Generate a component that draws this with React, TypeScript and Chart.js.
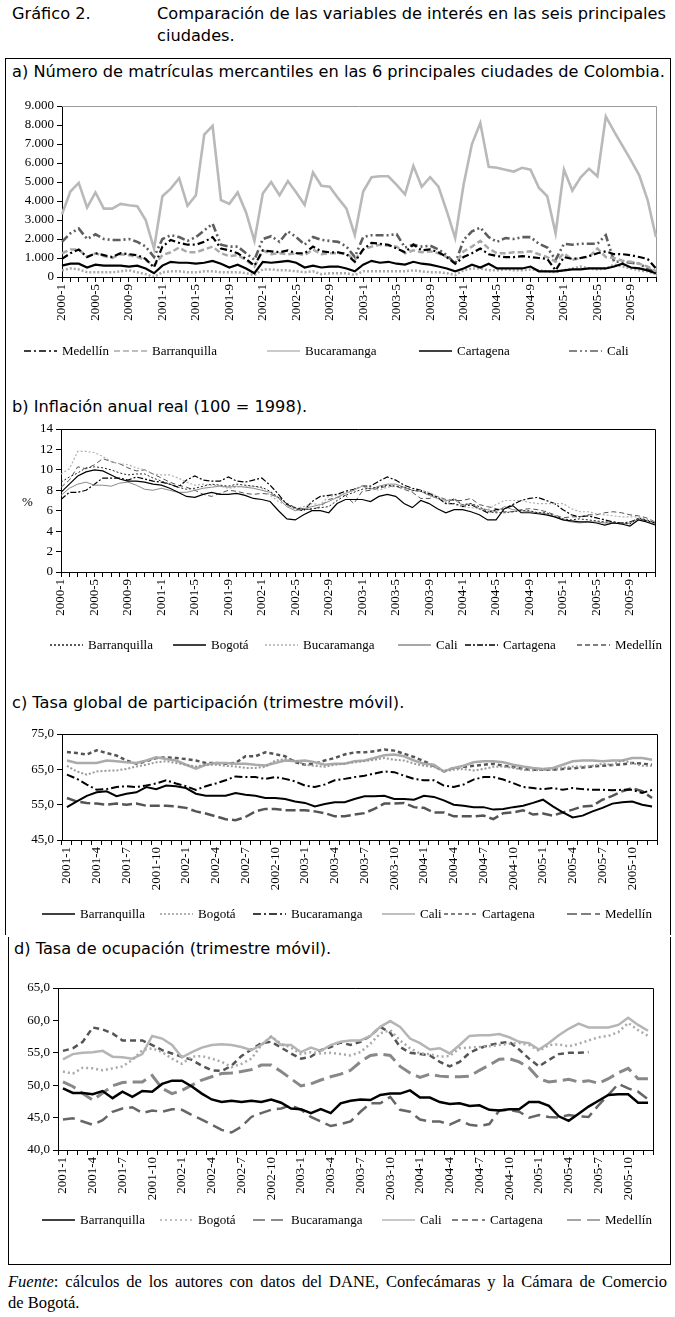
import React, { useEffect, useRef } from 'react';
import { Chart, registerables } from 'chart.js';

Chart.register(...registerables);

const SERIF = "'Liberation Serif', 'Times New Roman', Times, serif";
Chart.defaults.font.family = SERIF;
Chart.defaults.font.size = 13;
Chart.defaults.color = '#000';

// ---------- categories & tick labels ----------
const MONTHS_2000_2005: string[] = [];
for (let y = 2000; y <= 2005; y++) for (let m = 1; m <= 12; m++) MONTHS_2000_2005.push(`${y}-${m}`);
const MONTHS_2001_2005 = MONTHS_2000_2005.slice(12);

const TICKS_EVERY4 = ['2000-1','2000-5','2000-9','2001-1','2001-5','2001-9','2002-1','2002-5','2002-9','2003-1','2003-5','2003-9','2004-1','2004-5','2004-9','2005-1','2005-5','2005-9'];
const TICKS_QUARTER = ['2001-1','2001-4','2001-7','2001-10','2002-1','2002-4','2002-7','2002-10','2003-1','2003-4','2003-7','2003-10','2004-1','2004-4','2004-7','2004-10','2005-1','2005-4','2005-7','2005-10'];

// ---------- a) matrículas mercantiles ----------
const A_MEDELLIN = [950,1250,1450,1050,1250,1150,1050,1250,1200,1150,950,500, 1600,1950,1800,1700,1700,1850,2100,1500,1400,1250,950,600, 1400,1350,1300,1400,1250,1250,1600,1350,1300,1300,1200,800, 1450,1800,1750,1700,1500,1300,1700,1400,1450,1300,1050,700, 1050,1250,1500,1200,1100,1050,1050,1100,1050,1000,950,350, 1050,950,1000,1100,1250,1350,1200,1200,1150,1050,950,450];
const A_BARRANQUILLA = [1250,1450,1450,1050,1250,1100,1000,1200,1150,1050,900,600, 1150,1300,1550,1300,1300,1450,1600,1250,1100,1150,900,550, 1400,1200,1250,1200,1250,1150,1450,1200,1250,1250,1250,900, 1450,1600,1700,1650,1600,1250,1400,1300,1350,1250,1050,700, 1350,1600,1900,1500,1250,1250,1300,1300,1350,1200,1050,800, 1250,900,1000,1050,1500,1050,1000,850,800,700,550,300];
const A_BUCARAMANGA = [3300,4500,4950,3650,4450,3600,3600,3850,3780,3720,3000,1500, 4250,4650,5200,3750,4300,7500,7950,4050,3850,4450,3400,1900, 4400,5000,4300,5050,4450,3800,5500,4800,4750,4150,3600,2200, 4500,5250,5300,5300,4850,4350,5850,4750,5250,4750,3450,2050, 4850,7000,8100,5800,5750,5650,5550,5750,5650,4700,4250,2300, 5650,4550,5250,5700,5300,8450,7650,6900,6150,5350,4050,2100];
const A_CARTAGENA = [600,700,700,500,650,600,600,600,550,600,450,200, 600,800,750,750,700,750,850,700,500,650,450,200, 800,750,800,850,750,500,600,500,550,550,450,300, 650,850,750,800,700,650,800,700,650,550,450,300, 450,650,500,700,450,450,450,450,550,300,300,300, 350,400,400,450,450,450,550,700,500,450,350,200];
const A_CALI = [1850,2300,2550,2000,2250,2000,1950,1950,2000,1850,1600,1050, 2000,2200,2100,1900,2100,2450,2800,1700,1600,1600,1250,900, 2000,2150,1850,2400,2100,1700,2100,1950,1900,1850,1600,1050, 2100,2200,2200,2200,2250,1550,1700,1600,1650,1450,1150,700, 1950,2400,2600,2100,1850,2050,2000,2100,2100,1750,1550,900, 1750,1700,1750,1750,1750,2200,800,800,750,700,450,200];
const A_OTRA = [350,450,400,250,250,250,250,300,350,250,150,0, 250,300,300,250,250,300,300,250,250,250,200,100, 400,400,350,350,300,250,300,150,200,200,200,100, 300,300,300,300,300,300,350,300,250,250,200,100, 350,450,450,350,350,400,350,350,400,350,300,250, 350,450,550,450,400,450,650,550,450,350,300,150];

// ---------- b) inflación anual real ----------
const B_BARRANQUILLA = [8.8,9.3,9.7,10.2,10.3,10.2,10.0,9.7,9.5,9.6,9.6,9.2, 8.9,8.6,8.3,8.1,8.2,8.4,8.6,8.5,8.4,8.6,8.5,8.4, 8.3,7.9,7.3,6.7,6.3,6.1,6.2,6.3, 6.4,7.0,7.5,7.8,8.1,8.2,8.3,8.5,8.4,8.3,8.0,7.9, 7.6,7.3,6.7,7.2,6.6,6.7,6.4,5.9,5.8,5.8,5.9,6.0, 6.0,5.8,5.8,5.5,5.2,5.1,5.2,5.1,5.0,4.9,4.9,4.8, 4.7,5.3,5.1,4.8];
const B_BOGOTA = [7.8,8.6,9.4,9.8,10.0,9.9,9.5,9.1,8.9,8.9,8.8,8.6, 8.5,8.2,7.8,7.4,7.3,7.6,7.8,7.6,7.6,7.7,7.5,7.2, 7.1,6.9,6.0,5.2,5.1,5.6,6.0,6.0, 5.8,6.7,7.1,7.1,7.1,6.9,7.4,7.6,7.4,6.7,6.3,7.0, 6.7,6.2,5.8,6.1,6.1,5.9,5.6,5.1,5.1,6.2,6.5,5.8, 5.8,5.7,5.6,5.4,5.1,5.0,4.9,4.9,4.8,4.6,4.8,4.7, 4.5,5.1,4.9,4.6];
const B_BUCARAMANGA = [9.6,10.1,11.8,11.8,11.7,11.3,10.8,10.6,10.5,10.2,10.0,9.6, 9.5,9.5,9.2,8.8,8.5,8.6,8.5,8.4,8.2,8.3,8.4,8.4, 8.2,7.5,6.9,6.5,6.2,6.4,6.7,6.6, 7.4,7.5,7.7,8.0,8.4,8.2,8.0,8.3,8.4,8.2,7.9,8.0, 7.8,7.4,6.9,6.6,6.4,6.3,6.2,6.1,6.6,7.0,7.0,7.0, 6.8,6.7,6.7,6.7,6.7,6.2,5.9,5.9,5.7,5.6,5.5,5.4, 5.4,5.4,5.2,4.9];
const B_CALI = [7.5,8.2,8.6,8.8,8.5,8.5,8.4,8.7,8.8,8.5,8.1,8.0, 8.2,8.0,7.8,7.8,8.0,8.2,8.3,8.4,8.3,8.4,8.3,8.2, 8.0,7.8,7.2,6.4,6.0,6.2,6.4,6.6, 6.9,7.3,7.7,8.0,8.4,8.1,8.4,8.6,8.6,8.3,8.0,7.9, 7.5,7.2,7.0,7.1,6.5,6.7,6.2,6.1,5.9,6.4,6.1,6.0, 5.9,5.8,5.7,5.4,5.1,4.9,4.8,4.9,4.9,4.8,4.8,4.7, 4.8,5.2,4.9,4.7];
const B_CARTAGENA = [7.1,7.8,7.8,8.0,8.6,9.2,9.2,9.2,9.0,9.3,9.1,8.9, 8.8,8.6,8.3,9.0,9.4,9.0,8.9,8.9,9.3,8.9,8.8,9.0, 9.2,8.5,7.6,6.6,6.2,6.0,6.9,7.4, 7.5,7.6,7.9,8.1,8.4,8.4,8.9,9.3,9.0,8.5,8.2,8.0, 7.7,7.3,6.7,6.7,6.4,6.6,6.2,5.8,6.1,6.2,6.6,7.0, 7.2,7.3,7.0,6.7,6.1,5.6,5.4,5.5,5.3,5.1,4.9,4.8, 4.9,5.2,5.0,4.8];
const B_MEDELLIN = [8.3,9.0,10.3,10.1,10.5,11.1,10.8,10.6,10.2,9.9,10.0,9.6, 9.2,8.8,8.5,8.3,8.0,7.6,7.4,7.7,8.0,7.9,7.7,7.6, 7.7,7.6,7.3,6.7,6.3,6.2,6.1,6.4, 7.1,7.3,7.5,6.7,7.9,8.0,8.2,8.4,8.4,8.1,7.8,7.2, 7.2,7.4,7.1,7.0,7.0,7.2,6.6,6.4,6.2,5.9,5.9,6.1, 6.2,6.1,5.9,5.6,5.3,5.4,5.4,5.6,5.6,5.8,5.9,5.8, 5.6,5.5,5.3,4.9];

// ---------- c) tasa global de participación ----------
const C_BARRANQUILLA = [54.3,55.9,57.5,58.5,58.8,57.4,58.1,58.5,60.0,59.4,60.4,60.2, 59.7,58.1,57.5,57.5,57.5,58.3,57.8,57.5,56.9,56.9,56.6,55.9, 55.5,54.5,55.2,55.7,55.7,56.6,57.4,57.4,57.5,56.6,56.6,56.4, 57.5,57.2,56.2,55.0,54.7,54.3,54.3,53.6,53.8,54.3,54.7,55.5, 56.4,54.5,52.8,51.4,51.9,53.1,54.1,55.3,55.7,55.9,55.0,54.5];
const C_BOGOTA = [66.0,64.4,63.5,64.4,64.6,64.7,65.1,65.8,66.3,67.0,67.3,66.8, 66.3,65.8,66.3,66.3,66.0,65.8,65.4,65.4,65.7,67.5,67.9,67.5, 66.3,66.0,65.7,66.3,66.6,67.0,67.3,67.7,68.2,67.7,67.5,66.6, 66.0,65.7,64.4,64.9,65.1,64.7,65.1,65.7,65.8,65.4,64.9,64.7, 64.9,64.9,65.4,65.8,65.8,66.0,66.6,66.3,67.5,66.8,66.0,66.0];
const C_BUCARAMANGA = [63.5,62.3,60.7,59.2,59.4,60.0,60.2,60.0,60.4,61.0,61.9,61.0, 60.2,59.2,60.2,61.0,61.9,63.0,62.8,62.8,62.3,62.8,62.3,61.6, 60.4,60.0,60.7,61.9,62.3,62.8,63.2,63.8,64.4,64.2,63.2,62.3, 61.9,61.9,60.4,60.0,60.7,62.1,62.8,62.8,62.1,61.1,60.0,59.7, 59.4,59.7,59.2,59.7,59.4,59.2,59.2,59.1,59.2,59.2,58.3,59.2];
const C_CALI = [67.5,66.8,66.8,66.8,67.5,67.3,67.0,66.8,67.5,68.4,67.9,67.5, 66.3,65.2,66.3,66.8,66.8,66.6,66.6,66.3,66.1,66.8,67.5,67.3, 67.5,67.0,66.3,66.6,66.6,67.3,67.5,68.2,69.0,69.2,68.7,67.5, 66.6,66.3,64.4,65.4,66.0,67.0,67.3,67.3,67.0,66.3,65.8,65.4, 65.1,65.4,66.3,67.3,67.5,67.5,67.3,67.5,67.5,68.2,68.2,67.7];
const C_CARTAGENA = [69.9,69.6,69.2,70.4,69.6,68.9,67.5,66.6,67.3,68.2,68.4,68.2, 67.9,67.5,66.8,66.8,66.6,66.8,68.7,68.7,69.8,69.3,68.7,67.0, 66.3,66.6,67.5,68.2,69.2,69.8,69.8,70.1,70.6,70.3,69.4,68.5, 67.3,66.0,64.4,65.4,65.7,66.0,66.3,66.6,66.0,65.7,65.1,64.9, 64.9,64.9,65.1,65.3,65.5,65.8,66.0,66.2,66.4,66.8,66.6,66.3];
const C_MEDELLIN = [56.9,55.9,55.5,55.3,55.0,55.3,55.0,55.3,54.7,54.7,54.7,54.5, 54.1,53.1,52.5,51.7,50.9,50.6,51.5,53.1,53.8,53.8,53.4,53.4, 53.4,53.1,52.6,51.7,51.7,52.2,52.6,53.8,55.3,55.3,55.5,54.3, 54.1,52.8,52.8,51.7,51.7,51.7,51.9,50.9,52.6,52.8,53.4,52.2, 52.5,51.9,52.8,53.6,54.5,54.7,56.4,57.5,58.8,59.7,58.8,56.9];

// ---------- d) tasa de ocupación ----------
const D_BARRANQUILLA = [49.5,48.8,48.8,48.6,49.1,48.0,49.0,48.2,49.1,49.0,50.2,50.7, 50.7,49.8,48.7,47.8,47.4,47.6,47.4,47.6,47.4,47.8,47.3,46.4, 46.3,45.7,46.3,45.7,47.2,47.6,47.8,47.7,48.5,48.7,48.7,49.2, 48.1,48.1,47.4,47.1,47.2,46.8,46.9,46.2,46.1,46.3,46.3,47.4, 47.4,46.8,45.2,44.5,45.6,46.7,47.6,48.5,48.6,48.6,47.3,47.3];
const D_BOGOTA = [52.1,51.8,52.7,52.6,52.3,52.6,52.9,53.9,55.4,55.7,55.1,54.1, 53.3,54.4,54.5,54.1,53.6,52.8,53.3,54.1,56.2,57.5,56.4,55.8, 54.8,55.1,54.9,55.0,54.8,54.6,55.1,56.4,58.0,58.5,56.9,55.7, 54.9,54.8,54.4,54.5,55.7,55.8,55.9,56.0,56.2,56.4,56.5,56.2, 55.3,56.2,56.3,56.0,56.4,56.9,57.4,57.6,58.2,59.6,58.5,57.6];
const D_BUCARAMANGA = [44.7,44.9,44.4,43.9,44.6,45.9,46.4,46.6,45.7,46.1,45.9,46.3, 46.2,45.4,44.7,43.9,43.1,42.7,43.6,45.1,45.7,46.2,46.4,46.9, 46.2,45.1,44.4,43.7,44.0,44.4,45.9,47.2,47.2,48.2,46.2,45.9, 44.7,44.4,44.4,43.9,44.6,43.9,43.7,44.0,46.1,46.2,45.9,45.0, 45.4,45.1,45.0,45.4,45.2,45.1,46.9,48.5,50.2,49.5,49.0,47.8];
const D_CALI = [54.0,54.8,55.0,55.1,55.3,54.4,54.3,54.1,54.8,57.6,57.2,56.2, 54.3,55.1,55.8,56.2,56.3,56.2,55.9,55.4,56.2,57.5,56.2,56.2, 55.1,55.8,55.3,56.2,56.7,56.9,56.9,57.6,59.0,59.9,59.0,57.2, 56.5,55.5,55.7,54.9,56.2,57.6,57.7,57.7,57.9,57.4,56.7,56.5, 55.5,56.5,57.7,58.7,59.5,58.9,58.9,58.9,59.3,60.4,59.3,58.4];
const D_CARTAGENA = [55.3,55.7,56.7,58.9,58.6,58.0,56.9,56.9,56.9,56.2,55.4,54.9, 54.4,53.9,53.0,52.3,52.2,53.0,54.5,55.5,56.5,56.7,55.8,54.9, 54.1,54.4,55.4,55.9,56.6,56.2,56.7,57.6,59.0,58.1,55.9,55.0, 54.8,54.6,53.6,52.9,53.6,55.0,55.7,56.2,56.5,56.7,55.5,54.1, 52.9,53.9,54.8,55.0,55.0,55.1,null,null,null,null,null,null];
const D_MEDELLIN = [50.5,49.8,48.7,47.7,48.8,49.9,50.4,50.5,50.5,51.5,49.5,48.7, 49.2,50.0,50.8,51.3,51.8,51.9,52.1,52.4,53.1,53.1,52.1,51.0, 49.9,50.2,50.8,51.3,51.7,52.3,53.6,54.6,54.8,54.6,52.9,51.9, 51.2,51.7,51.4,51.3,51.3,51.4,52.3,53.1,54.0,54.1,53.6,52.7, 51.0,50.5,50.7,50.9,50.5,50.7,50.3,51.0,51.9,52.6,51.0,51.0];

// ---------- plugins ----------
const framePlugin = {
  id: 'plotFrame',
  beforeDatasetsDraw(chart: any, _a: any, opts: any) {
    const { ctx, chartArea: a } = chart;
    ctx.save();
    ctx.lineWidth = 1;
    ctx.strokeStyle = opts.color || '#000';
    ctx.beginPath();
    ctx.moveTo(a.left, a.top + 0.5);
    ctx.lineTo(a.right + 0.5, a.top + 0.5);
    ctx.lineTo(a.right + 0.5, a.bottom);
    ctx.stroke();
    ctx.restore();
  },
};

const keyPlugin = {
  id: 'lineKey',
  afterDraw(chart: any, _a: any, opts: any) {
    const { ctx } = chart;
    ctx.save();
    ctx.font = opts.font;
    ctx.textBaseline = 'middle';
    ctx.fillStyle = '#000';
    chart.data.datasets.forEach((ds: any, i: number) => {
      const tx = opts.xs[i];
      if (tx == null) return;
      const x1 = tx - opts.gap - opts.len;
      ctx.strokeStyle = ds.borderColor;
      ctx.lineWidth = opts.lineWidth;
      ctx.setLineDash(ds.borderDash || []);
      ctx.beginPath();
      ctx.moveTo(x1, opts.y);
      ctx.lineTo(x1 + opts.len, opts.y);
      ctx.stroke();
      ctx.setLineDash([]);
      ctx.fillText(ds.label, tx, opts.y + 1);
    });
    ctx.restore();
  },
};

type PanelProps = {
  top: number; height: number;
  plot: { l: number; r: number; t: number; b: number };
  xh: number;
  labels: string[]; shown: string[]; offset: boolean;
  datasets: any[];
  yMin: number; yMax: number; step: number; fmt: (v: number) => string;
  keyY: number; keyXs: (number | null)[];
  frameColor: string; axisColor: string;
};

function Panel(p: PanelProps) {
  const ref = useRef<HTMLCanvasElement>(null);
  useEffect(() => {
    const yw = p.plot.l - 8;
    const shown = new Set(p.shown);
    const tickFont = { family: SERIF, size: 13 };
    const chart = new Chart(ref.current as HTMLCanvasElement, {
      type: 'line',
      data: { labels: p.labels, datasets: p.datasets.map((d) => ({ ...d, pointRadius: 0, tension: 0, fill: false, spanGaps: false })) },
      plugins: [framePlugin, keyPlugin],
      options: {
        animation: false,
        responsive: false,
        maintainAspectRatio: false,
        devicePixelRatio: 1,
        events: [],
        layout: { padding: { left: 8, right: 675 - p.plot.r, top: p.plot.t - p.top, bottom: p.top + p.height - p.plot.b - p.xh } },
        plugins: {
          legend: { display: false },
          tooltip: { enabled: false },
          plotFrame: { color: p.frameColor },
          lineKey: { y: p.keyY - p.top, xs: p.keyXs, len: 33, gap: 5, lineWidth: 1.3, font: `13px ${SERIF}` },
        } as any,
        scales: {
          x: {
            type: 'category',
            offset: p.offset,
            grid: { drawOnChartArea: false, drawTicks: true, tickLength: 5, color: '#000', offset: p.offset },
            border: { color: p.axisColor, width: 1 },
            ticks: {
              autoSkip: false, maxRotation: 90, minRotation: 90, padding: 2, color: '#000',
              font: tickFont,
              callback: (_v: any, i: number) => (shown.has(p.labels[i]) ? p.labels[i] : ''),
            },
            afterFit: (s: any) => { s.height = p.xh; },
          },
          y: {
            min: p.yMin, max: p.yMax,
            grid: { drawOnChartArea: false, drawTicks: true, tickLength: 5, color: '#000' },
            border: { color: p.axisColor, width: 1 },
            ticks: { stepSize: p.step, padding: 3, color: '#000', font: tickFont, callback: (v: any) => p.fmt(Number(v)) },
            afterFit: (s: any) => { s.width = yw; },
          },
        },
      } as any,
    });
    return () => chart.destroy();
  }, []);
  return (
    <canvas ref={ref} width={675} height={p.height}
      style={{ position: 'absolute', left: 0, top: p.top, width: 675, height: p.height }} />
  );
}

const thousands = (v: number) => String(Math.round(v)).replace(/\B(?=(\d{3})+(?!\d))/g, '.');
const oneDec = (v: number) => v.toFixed(1).replace('.', ',');
const plain = (v: number) => String(v);

const TITLE_FONT = "'DejaVu Sans', 'Noto Sans', sans-serif";

const titleStyle = (top: number, left: number): React.CSSProperties => ({
  position: 'absolute', top, left, fontFamily: TITLE_FONT, fontSize: 16.2, lineHeight: '19px', whiteSpace: 'nowrap', color: '#000',
});

const footStyle = (top: number): React.CSSProperties => ({
  position: 'absolute', left: 8, top, width: 659, fontFamily: SERIF, fontSize: 16.5, lineHeight: '21px', color: '#000', whiteSpace: 'nowrap',
});

export default function App() {
  const dsA = [
    { label: 'Medellín', data: A_MEDELLIN, borderColor: '#000000', borderWidth: 2.2, borderDash: [7, 3, 2, 3] },
    { label: 'Barranquilla', data: A_BARRANQUILLA, borderColor: '#a9a9a9', borderWidth: 2.5, borderDash: [6, 3] },
    { label: 'Bucaramanga', data: A_BUCARAMANGA, borderColor: '#b9b9b9', borderWidth: 2.6 },
    { label: 'Cartagena', data: A_CARTAGENA, borderColor: '#000000', borderWidth: 2.2 },
    { label: 'Cali', data: A_CALI, borderColor: '#5e5e5e', borderWidth: 2.6, borderDash: [8, 3, 2, 3, 2, 3] },
    { label: 'Otras', data: A_OTRA, borderColor: '#a9a9a9', borderWidth: 2.5, borderDash: [2, 2] },
  ];
  const dsB = [
    { label: 'Barranquilla', data: B_BARRANQUILLA, borderColor: '#222222', borderWidth: 1, borderDash: [2, 2] },
    { label: 'Bogotá', data: B_BOGOTA, borderColor: '#000000', borderWidth: 1.2 },
    { label: 'Bucaramanga', data: B_BUCARAMANGA, borderColor: '#b0b0b0', borderWidth: 1.2, borderDash: [2, 2] },
    { label: 'Cali', data: B_CALI, borderColor: '#8a8a8a', borderWidth: 1 },
    { label: 'Cartagena', data: B_CARTAGENA, borderColor: '#000000', borderWidth: 1.2, borderDash: [6, 2, 2, 2] },
    { label: 'Medellín', data: B_MEDELLIN, borderColor: '#555555', borderWidth: 1, borderDash: [5, 3] },
  ];
  const dsC = [
    { label: 'Barranquilla', data: C_BARRANQUILLA, borderColor: '#000000', borderWidth: 2 },
    { label: 'Bogotá', data: C_BOGOTA, borderColor: '#9a9a9a', borderWidth: 2, borderDash: [2, 2] },
    { label: 'Bucaramanga', data: C_BUCARAMANGA, borderColor: '#000000', borderWidth: 2, borderDash: [8, 3, 2, 3] },
    { label: 'Cali', data: C_CALI, borderColor: '#ababab', borderWidth: 2.5 },
    { label: 'Cartagena', data: C_CARTAGENA, borderColor: '#555555', borderWidth: 2.5, borderDash: [4, 3] },
    { label: 'Medellín', data: C_MEDELLIN, borderColor: '#555555', borderWidth: 2.5, borderDash: [10, 4] },
  ];
  const dsD = [
    { label: 'Barranquilla', data: D_BARRANQUILLA, borderColor: '#000000', borderWidth: 2.5 },
    { label: 'Bogotá', data: D_BOGOTA, borderColor: '#aaaaaa', borderWidth: 2.5, borderDash: [2, 3] },
    { label: 'Bucaramanga', data: D_BUCARAMANGA, borderColor: '#666666', borderWidth: 2.5, borderDash: [12, 6] },
    { label: 'Cali', data: D_CALI, borderColor: '#b5b5b5', borderWidth: 2.5 },
    { label: 'Cartagena', data: D_CARTAGENA, borderColor: '#555555', borderWidth: 2.5, borderDash: [6, 4] },
    { label: 'Medellín', data: D_MEDELLIN, borderColor: '#888888', borderWidth: 3, borderDash: [14, 6] },
  ];

  return (
    <div style={{ position: 'absolute', left: 0, top: 0, width: 675, height: 1317, background: '#fff', overflow: 'hidden' }}>
      <div style={titleStyle(4, 12)}>Gráfico 2.</div>
      <div style={titleStyle(4, 157)}>Comparación de las variables de interés en las seis principales</div>
      <div style={titleStyle(26, 157)}>ciudades.</div>

      <div style={{ position: 'absolute', left: 5, top: 58, width: 664, height: 876, borderLeft: '1.5px solid #000', borderTop: '1.5px solid #000', borderRight: '1.5px solid #000' }} />
      <div style={{ position: 'absolute', left: 8, top: 937, width: 661, height: 327, borderLeft: '1.5px solid #000', borderBottom: '1.5px solid #000', borderRight: '1.5px solid #000' }} />

      <div style={titleStyle(62, 12)}>a) Número de matrículas mercantiles en las 6 principales ciudades de Colombia.</div>
      <Panel top={92} height={273} plot={{ l: 62, r: 656, t: 106, b: 277 }} xh={62}
        labels={MONTHS_2000_2005} shown={TICKS_EVERY4} offset={false} datasets={dsA}
        yMin={0} yMax={9000} step={1000} fmt={thousands}
        keyY={351} keyXs={[62, 152, 305, 457, 607, null]} frameColor="#9a9a9a" axisColor="#000" />

      <div style={titleStyle(397, 12)}>b) Inflación anual real (100 = 1998).</div>
      <Panel top={418} height={240} plot={{ l: 61, r: 655, t: 429, b: 572 }} xh={62}
        labels={MONTHS_2000_2005} shown={TICKS_EVERY4} offset={false} datasets={dsB}
        yMin={0} yMax={14} step={2} fmt={plain}
        keyY={645} keyXs={[88, 211, 303, 436, 503, 615]} frameColor="#000" axisColor="#000" />
      <div style={{ position: 'absolute', left: 22, top: 494, fontFamily: SERIF, fontSize: 13 }}>%</div>

      <div style={titleStyle(693, 12)}>c) Tasa global de participación (trimestre móvil).</div>
      <Panel top={722} height={205} plot={{ l: 62, r: 657, t: 734, b: 840 }} xh={62}
        labels={MONTHS_2001_2005} shown={TICKS_QUARTER} offset={true} datasets={dsC}
        yMin={45} yMax={75} step={5} fmt={oneDec}
        keyY={914} keyXs={[80, 198, 291, 420, 482, 605]} frameColor="#000" axisColor="#000" />

      <div style={titleStyle(939, 14)}>d) Tasa de ocupación (trimestre móvil).</div>
      <Panel top={975} height={260} plot={{ l: 58, r: 653, t: 988, b: 1150 }} xh={62}
        labels={MONTHS_2001_2005} shown={TICKS_QUARTER} offset={true} datasets={dsD}
        yMin={40} yMax={65} step={5} fmt={oneDec}
        keyY={1220} keyXs={[80, 198, 291, 420, 490, 605]} frameColor="#000" axisColor="#000" />

      <div style={{ ...footStyle(1271), textAlign: 'justify', textAlignLast: 'justify' as any }}>
        <i>Fuente</i>: cálculos de los autores con datos del DANE, Confecámaras y la Cámara de Comercio
      </div>
      <div style={footStyle(1292)}>de Bogotá.</div>
    </div>
  );
}
